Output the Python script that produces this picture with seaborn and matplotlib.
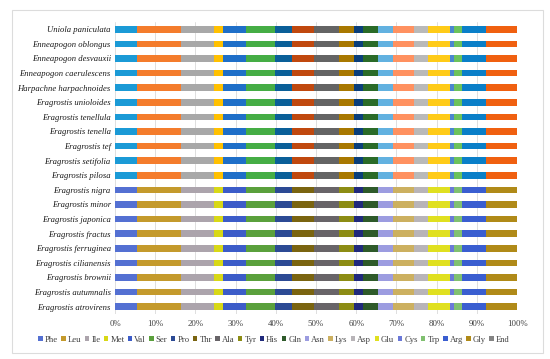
import numpy as np
import pandas as pd
import matplotlib
matplotlib.use("Agg")
import matplotlib.pyplot as plt
from matplotlib.patches import Patch, Rectangle
import seaborn as sns

amino_acids = ["Phe", "Leu", "Ile", "Met", "Val", "Ser", "Pro", "Thr", "Ala", "Tyr",
               "His", "Gln", "Asn", "Lys", "Asp", "Glu", "Cys", "Trp", "Arg", "Gly", "End"]

species = ["Uniola paniculata", "Enneapogon oblongus", "Enneapogon desvauxii",
           "Enneapogon caerulescens", "Harpachne harpachnoides", "Eragrostis unioloides",
           "Eragrostis tenellula", "Eragrostis tenella", "Eragrostis tef",
           "Eragrostis setifolia", "Eragrostis pilosa", "Eragrostis nigra",
           "Eragrostis minor", "Eragrostis japonica", "Eragrostis fractus",
           "Eragrostis ferruginea", "Eragrostis cilianensis", "Eragrostis brownii",
           "Eragrostis autumnalis", "Eragrostis atrovirens"]

# group of each species (first 11 / last 9)
species_group = ["A"] * 11 + ["B"] * 9

# percent usage of each amino acid (same order as amino_acids)
pct_group_a = [5.5, 10.9, 8.2, 2.3, 5.7, 7.2, 4.3, 5.4, 6.1, 3.9,
               2.1, 3.7, 3.9, 5.2, 3.5, 5.4, 1.1, 1.8, 6.1, 7.6, 0.1]
pct_group_b = [5.5, 10.9, 8.2, 2.3, 5.7, 7.2, 4.3, 5.4, 6.1, 3.9,
               2.1, 3.7, 3.9, 5.2, 3.5, 5.4, 1.1, 1.8, 6.1, 7.6, 0.1]

colors_a = ["#1b9ad6", "#f47c2c", "#a8a8a8", "#ffc000", "#1f6fc8", "#45ad45",
            "#0a5f98", "#c0480e", "#646464", "#a87800", "#0a3f7a", "#2a6b28",
            "#62b1e0", "#ff9160", "#b9b9b9", "#ffcb18", "#4a86d0", "#6cc25c",
            "#0a7fc8", "#f06010", "#848484"]
colors_b = ["#5470d2", "#c49a2c", "#aca4ac", "#d8d816", "#3c5cc8", "#5aa03c",
            "#2c4a94", "#7a6410", "#686468", "#8c8c14", "#202a7c", "#2e5a2a",
            "#9c9ce0", "#ccb060", "#b8b4b8", "#e0e020", "#6a78d8", "#80c070",
            "#3a5ed0", "#b08a18", "#848484"]

pct = {"A": pct_group_a, "B": pct_group_b}
cols = {"A": colors_a, "B": colors_b}

fig = plt.figure(figsize=(5.5, 3.59), dpi=100)
sns.set_style("white")
plt.rcParams["font.family"] = ["Liberation Serif", "DejaVu Serif"]

ax = fig.add_axes([115 / 550, 1 - 314 / 359, 402 / 550, 292 / 359])

# cumulative (stacked) values
cum = {g: np.cumsum(pct[g]) for g in pct}
for i in reversed(range(len(amino_acids))):
    df = pd.DataFrame({
        "species": species,
        "value": [cum[g][i] for g in species_group],
    })
    pal = {sp: cols[g][i] for sp, g in zip(species, species_group)}
    sns.barplot(data=df, x="value", y="species", hue="species", palette=pal,
                orient="h", width=0.45, saturation=1, legend=False, ax=ax,
                linewidth=0, order=species)

ax.set_xlim(0, 100)
ax.set_ylim(19.5, -0.5)
ax.set_xticks(np.arange(0, 101, 10))
ax.set_xticklabels([f"{v}%" for v in range(0, 101, 10)], fontsize=6.3, color="#404040")
ax.set_yticks(range(len(species)))
ax.set_yticklabels(species, fontsize=6.2, style="italic", color="#1a1a1a")
ax.set_xlabel("")
ax.set_ylabel("")
ax.tick_params(axis="both", length=0, pad=3)
ax.tick_params(axis="x", pad=4)
ax.xaxis.grid(True, color="#d9d9d9", linewidth=0.6)
ax.set_axisbelow(True)
for s in ax.spines.values():
    s.set_visible(False)

handles = [Patch(facecolor=c, edgecolor="none", label=a) for a, c in zip(amino_acids, colors_b)]
fig.legend(handles=handles, loc="center", bbox_to_anchor=(274 / 550, 1 - 340 / 359),
           ncol=21, frameon=False, fontsize=6.2, handlelength=0.5, handleheight=0.5,
           handletextpad=0.25, columnspacing=0.4, borderaxespad=0, borderpad=0,
           labelcolor="#404040")

fig.patches.append(Rectangle((12 / 550, 1 - 353 / 359), 531 / 550, 343 / 359,
                             transform=fig.transFigure, fill=False,
                             edgecolor="#dcdcdc", linewidth=0.8))

fig.savefig("out.png", dpi=100)
